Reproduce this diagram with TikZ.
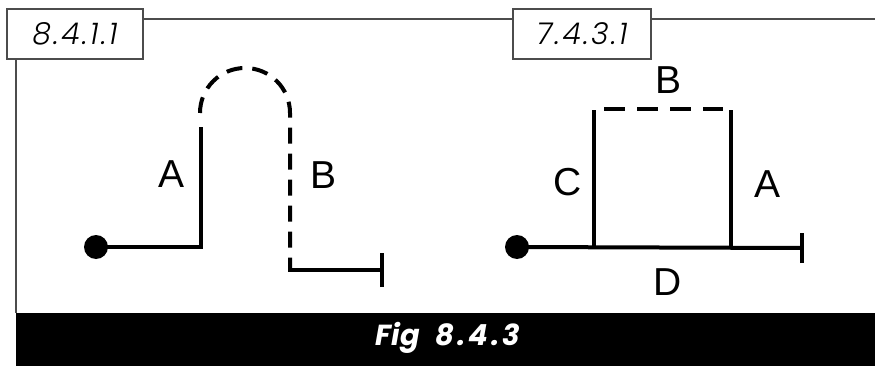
\documentclass[tikz,border=0pt]{standalone}
\usepackage{fontspec}
\setsansfont{Liberation Sans}
\newfontfamily\tagfont{Poppins Light}[ItalicFont={Poppins Light Italic}, LetterSpace=8]
\newfontfamily\capfont{Poppins}
\usetikzlibrary{positioning,calc}

\begin{document}
\begin{tikzpicture}[
    x=1pt, y=-1pt,
    frameline/.style={line width=1.5pt, draw=black!70},
    tagbox/.style={rectangle, draw=black!70, line width=1.5pt, fill=white,
                   minimum height=50pt, inner sep=0pt,
                   font=\tagfont\itshape\fontsize{30}{32}\selectfont},
    wire/.style={line width=4pt},
    dashwire/.style={wire, dash pattern=on 16pt off 10pt},
    topdash/.style={wire, dash pattern=on 21pt off 12pt},
    terminal/.style={circle, fill=black, minimum size=24pt, inner sep=0pt},
    seglabel/.style={font=\sffamily\fontsize{39}{44}\selectfont, inner sep=0pt},
]
\useasboundingbox (0,0) rectangle (875,366);

% frame and caption bar
\fill[black] (16,313) rectangle (875,366);
\node[font=\capfont\bfseries\itshape\fontsize{29}{32}\selectfont, text=white] (cap) at (448,338)
  {Fig\kern16pt 8\kern3pt.\kern3pt4\kern3pt.\kern3pt3};

\node[tagbox, minimum width=136pt] (t1) at (75,34) {8.4.1.1};
\node[tagbox, minimum width=138pt] (t2) at (582,34) {7.4.3.1};
\coordinate (fl) at (16,313);
\coordinate (fr) at (875,19);
\draw[frameline] (t1.south -| fl) -- (fl);
\draw[frameline] (t1.east |- fr) -- (t2.west |- fr);
\draw[frameline] (t2.east |- fr) -- (fr);

% left route
\node[terminal] (d1) at (96,247) {};
\coordinate (a1) at (201,247);
\coordinate (a2) at (201,127);
\coordinate (b0) at (200,113);
\coordinate (b1) at (290,270);
\coordinate (e1) at (382,270);
\draw[wire] (d1.center) -- (a1) -- (a2);
\draw[dashwire] (b0) arc[start angle=180, end angle=360, radius=45] -- (b1);
\draw[wire] ([xshift=-2pt]b1) -- (e1);
\draw[wire] ([yshift=-17pt]e1) -- ([yshift=17pt]e1);
\node[seglabel] (la) at (172,174) {A};
\node[seglabel] (lb) at (324,175) {B};

% right route
\node[terminal] (d2) at (517,247) {};
\coordinate (c1) at (594,248);
\coordinate (c1t) at (594,110);
\coordinate (c2) at (731,248);
\coordinate (c2t) at (731,110);
\coordinate (e2) at (802,248);
\draw[wire] (d2.center) -- (e2);
\draw[wire] (c1) -- (c1t);
\draw[wire] (c2) -- (c2t);
\draw[topdash] ([xshift=10pt, yshift=1pt]c1t) -- ([xshift=-8pt, yshift=1pt]c2t);
\draw[wire] ([yshift=-15pt]e2) -- ([yshift=15pt]e2);
\node[seglabel] (rb) at (668,80) {B};
\node[seglabel] (rc) at (568,182) {C};
\node[seglabel] (ra) at (767,184) {A};
\node[seglabel] (rd) at (668,282) {D};

\end{tikzpicture}
\end{document}
